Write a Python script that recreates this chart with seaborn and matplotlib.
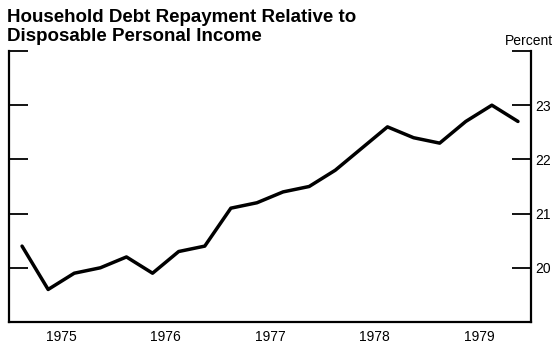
import numpy as np
import pandas as pd
import matplotlib
matplotlib.use('Agg')
import matplotlib.pyplot as plt
import seaborn as sns

sns.set_style('white')
plt.rcParams['font.family'] = ['Liberation Sans', 'DejaVu Sans']
plt.rcParams['text.color'] = 'black'
plt.rcParams['xtick.color'] = 'black'
plt.rcParams['ytick.color'] = 'black'

# quarterly data, 1975Q1 - 1979Q4
years = [1975, 1976, 1977, 1978, 1979]
quarters = [1, 2, 3, 4]
debt_ratio = [20.4, 19.6, 19.9, 20.0,
              20.2, 19.9, 20.3, 20.4,
              21.1, 21.2, 21.4, 21.5,
              21.8, 22.2, 22.6, 22.4,
              22.3, 22.7, 23.0, 22.7]

period = [y + (q - 0.5) / 4 for y in years for q in quarters]
df = pd.DataFrame({'period': period, 'ratio': debt_ratio})

fig = plt.figure(figsize=(5.55, 3.45), dpi=100)
ax = fig.add_axes([0.0162, 0.0667, 0.9406, 0.7855])

sns.lineplot(data=df, x='period', y='ratio', ax=ax, color='black', linewidth=2.5)

ax.set_xlim(1975, 1980)
ax.set_ylim(19, 24)
ax.set_xlabel('')
ax.set_ylabel('')

# spines
ax.spines['top'].set_visible(False)
for s in ['left', 'right', 'bottom']:
    ax.spines[s].set_visible(True)
    ax.spines[s].set_color('black')
    ax.spines[s].set_linewidth(1.6)

# y ticks: inward on both sides, labels on right
ax.set_yticks([20, 21, 22, 23, 24])
ax.set_yticklabels(['20', '21', '22', '23', ''])
ax.yaxis.set_ticks_position('both')
ax.tick_params(axis='y', which='major', direction='in', length=14, width=1.3,
               labelleft=False, labelright=True, labelsize=10, pad=3)

# x ticks: year boundaries, labels at mid-year
ax.set_xticks([1976, 1977, 1978, 1979])
ax.set_xticks([y + 0.5 for y in years], minor=True)
ax.set_xticklabels([str(y) for y in years], minor=True)
ax.tick_params(axis='x', which='major', direction='in', length=11, width=1.2,
               labelbottom=False)
ax.tick_params(axis='x', which='minor', length=0, labelsize=10, pad=6)

fig.text(0.012, 0.975, 'Household Debt Repayment Relative to\nDisposable Personal Income',
         ha='left', va='top', fontsize=13.5, fontweight='bold', linespacing=1.2)
fig.text(0.997, 0.86, 'Percent', ha='right', va='bottom', fontsize=10)

fig.savefig('out.png', dpi=100)
